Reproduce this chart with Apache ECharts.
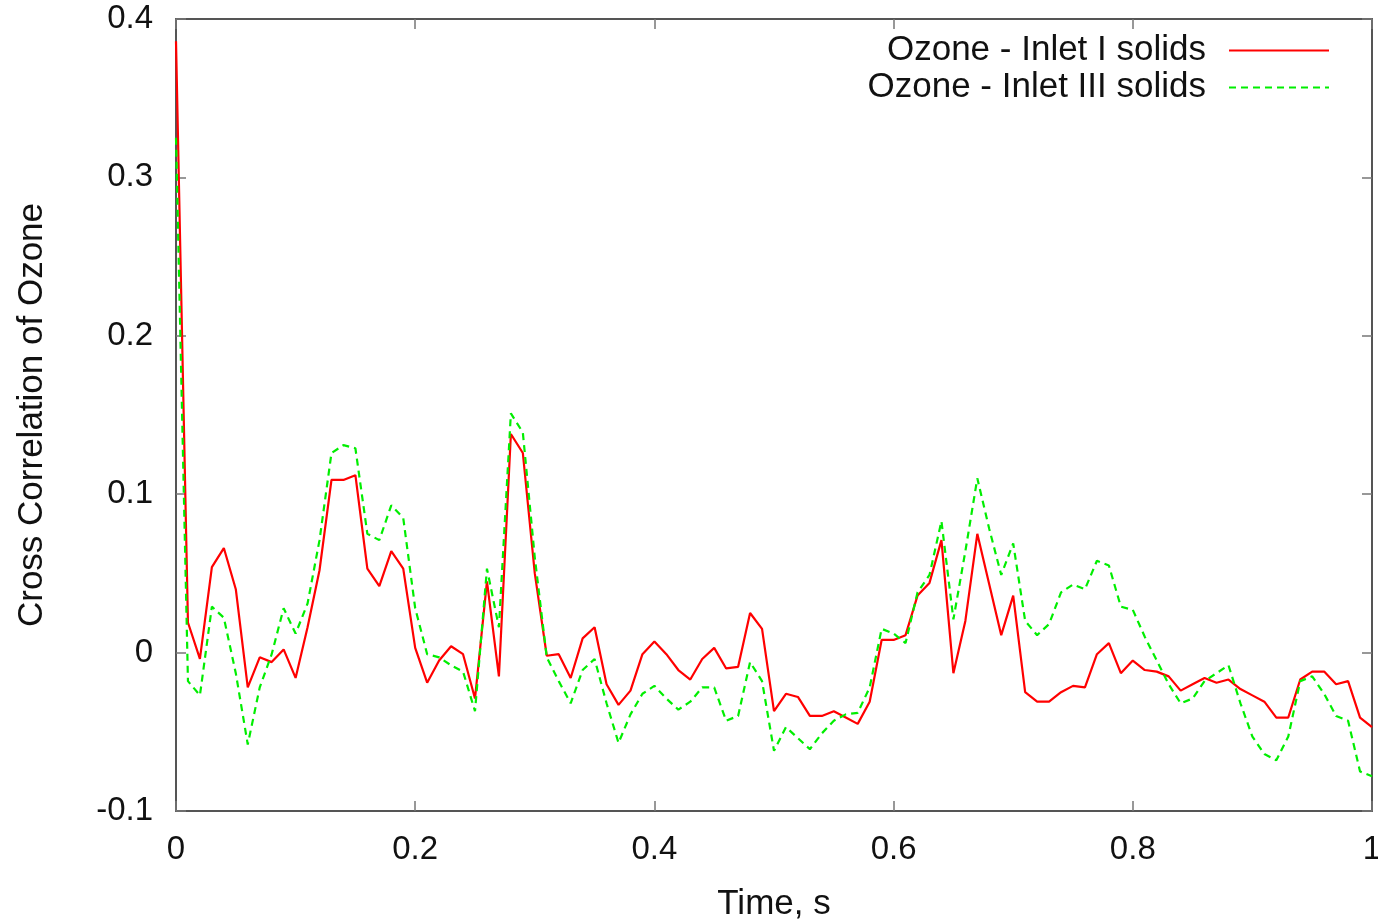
<!DOCTYPE html>
<html><head><meta charset="utf-8">
<script src="https://cdn.jsdelivr.net/npm/echarts@6/dist/echarts.min.js"></script>
<style>html,body{margin:0;padding:0;background:#fff}#c{width:1378px;height:920px}</style>
</head><body><div id="c"></div>
<script>
const seriesNames = ['Ozone - Inlet I solids', 'Ozone - Inlet III solids'];
const xTicks = [0, 0.2, 0.4, 0.6, 0.8, 1];
const yTicks = [-0.1, 0, 0.1, 0.2, 0.3, 0.4];
const inlet1 = [0.386,0.019,-0.004,0.054,0.066,0.040,-0.022,-0.003,-0.006,0.002,
 -0.016,0.016,0.052,0.109,0.109,0.112,0.053,0.042,0.064,0.053,
 0.003,-0.019,-0.005,0.004,-0.001,-0.029,0.045,-0.015,0.138,0.126,
 0.050,-0.002,-0.001,-0.016,0.009,0.016,-0.020,-0.033,-0.024,-0.001,
 0.007,-0.001,-0.011,-0.017,-0.004,0.003,-0.010,-0.009,0.025,0.015,
 -0.037,-0.026,-0.028,-0.040,-0.040,-0.037,-0.041,-0.045,-0.031,0.008,
 0.008,0.011,0.036,0.044,0.071,-0.013,0.020,0.075,0.043,0.011,
 0.036,-0.025,-0.031,-0.031,-0.025,-0.021,-0.022,-0.001,0.006,-0.013,
 -0.005,-0.011,-0.012,-0.015,-0.024,-0.020,-0.016,-0.019,-0.017,-0.023,
 -0.027,-0.031,-0.041,-0.041,-0.017,-0.012,-0.012,-0.020,-0.018,-0.041,-0.047];
const inlet3 = [0.325,-0.018,-0.027,0.029,0.022,-0.013,-0.058,-0.022,-0.001,0.028,
 0.012,0.031,0.071,0.126,0.131,0.129,0.075,0.071,0.093,0.085,
 0.028,-0.001,-0.003,-0.008,-0.012,-0.037,0.053,0.016,0.151,0.139,
 0.060,-0.003,-0.018,-0.032,-0.011,-0.004,-0.032,-0.057,-0.039,-0.026,
 -0.021,-0.029,-0.036,-0.031,-0.022,-0.022,-0.043,-0.040,-0.006,-0.018,
 -0.062,-0.047,-0.054,-0.061,-0.051,-0.043,-0.039,-0.038,-0.022,0.015,
 0.012,0.006,0.038,0.049,0.083,0.021,0.064,0.110,0.078,0.049,
 0.069,0.020,0.011,0.018,0.038,0.043,0.040,0.058,0.055,0.029,
 0.027,0.010,-0.005,-0.020,-0.032,-0.029,-0.018,-0.013,-0.008,-0.032,
 -0.053,-0.064,-0.068,-0.053,-0.018,-0.015,-0.026,-0.040,-0.043,-0.075,-0.078];
const times = inlet1.map((_, i) => i / 100);

const font = 'Liberation Sans';
const chart = echarts.init(document.getElementById('c'));
const fmtX = v => { const r = Math.round(v*10)/10; return xTicks.includes(r) ? String(r) : ''; };
const fmtY = v => { const r = Math.round(v*10)/10; return yTicks.includes(r) ? String(r) : ''; };
const frameLine = {show: true, onZero: false, lineStyle: {color: '#555', width: 2}};
const tick = {show: true, inside: true, length: 10, lineStyle: {color: '#777', width: 1.5}};
chart.setOption({
  animation: false,
  backgroundColor: '#fff',
  textStyle: {fontFamily: font},
  grid: {left: 176, right: 6, top: 19, bottom: 109, containLabel: false, outerBoundsMode: 'none'},
  legend: {
    orient: 'vertical', right: 43, top: 28, align: 'right', itemGap: 2,
    itemWidth: 100, itemHeight: 14,
    itemStyle: {opacity: 0},
    textStyle: {fontFamily: font, fontSize: 35, lineHeight: 32, color: '#111', padding: [0, 18, 0, 0]},
    data: seriesNames
  },
  xAxis: [{
    type: 'value', min: 0, max: 1, interval: 0.2,
    name: 'Time, s', nameLocation: 'middle', nameGap: 76,
    nameTextStyle: {fontFamily: font, fontSize: 35, color: '#111'},
    axisLine: frameLine, axisTick: tick, splitLine: {show: false},
    axisLabel: {fontFamily: font, fontSize: 33, color: '#111', margin: 22, formatter: fmtX}
  }, {
    type: 'value', min: 0, max: 1, interval: 0.2, position: 'top',
    axisLine: frameLine, axisTick: tick, splitLine: {show: false}, axisLabel: {show: false}
  }],
  yAxis: [{
    type: 'value', min: -0.1, max: 0.4, interval: 0.1,
    name: 'Cross Correlation of Ozone', nameLocation: 'middle', nameGap: 126,
    nameTextStyle: {fontFamily: font, fontSize: 35, color: '#111'},
    axisLine: frameLine, axisTick: tick, splitLine: {show: false},
    axisLabel: {fontFamily: font, fontSize: 33, color: '#111', margin: 23, formatter: fmtY}
  }, {
    type: 'value', min: -0.1, max: 0.4, interval: 0.1, position: 'right',
    axisLine: frameLine, axisTick: tick, splitLine: {show: false}, axisLabel: {show: false}
  }],
  series: [{
    name: seriesNames[0], type: 'line', symbol: 'none',
    lineStyle: {color: '#ff0000', width: 2.2},
    itemStyle: {color: '#ff0000'},
    data: times.map((t, i) => [t, inlet1[i]])
  }, {
    name: seriesNames[1], type: 'line', symbol: 'none',
    lineStyle: {color: '#00ee00', width: 2.2, type: [7, 5]},
    itemStyle: {color: '#00ee00'},
    data: times.map((t, i) => [t, inlet3[i]])
  }]
});
</script></body></html>
